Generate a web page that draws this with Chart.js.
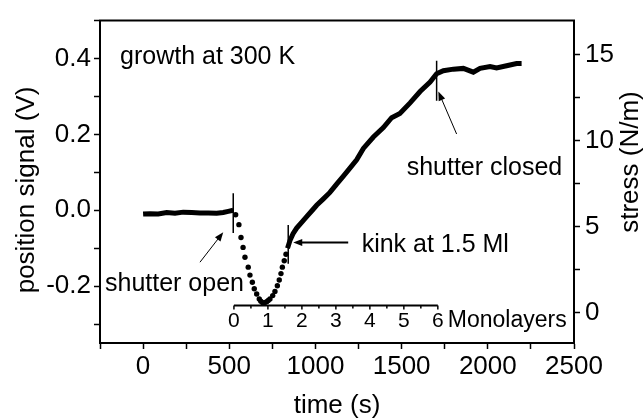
<!DOCTYPE html>
<html lang="en">
<head>
  <meta charset="UTF-8">
  <title>Growth at 300 K</title>
  <script src="https://cdn.jsdelivr.net/npm/chart.js@4.4.0/dist/chart.umd.min.js"></script>
  <style>
    body { margin: 0; background: #fff; }
  </style>
</head>
<body>
  <canvas id="myChart" width="644" height="419"></canvas>
  <script>
    // position signal (V) vs time (s)
    const flatTime   = [0, 40, 88, 137, 185, 233, 282, 330, 378, 427, 465, 494, 523];
    const flatSignal = [-0.010, -0.009, -0.010, -0.006, -0.008, -0.005, -0.006, -0.007, -0.007, -0.008, -0.006, -0.003, 0.000];

    // sparse dots right after the shutter opens
    const dropTime   = [537, 556, 568, 580, 591, 610, 620, 634, 645, 659, 674, 683, 694, 705, 717, 726, 736, 752, 765, 779, 790, 800, 808, 819, 829];
    const dropSignal = [-0.012, -0.038, -0.072, -0.098, -0.124, -0.150, -0.171, -0.190, -0.207, -0.221, -0.234, -0.240, -0.244, -0.244, -0.241, -0.238, -0.234, -0.225, -0.214, -0.199, -0.184, -0.167, -0.150, -0.133, -0.116];

    const riseTime   = [838, 852, 870, 891, 920, 949, 978, 1007, 1046, 1084, 1123, 1162, 1200, 1239, 1278, 1336, 1394, 1442, 1490, 1549, 1607, 1665, 1703,
                        1742, 1800, 1858, 1916, 1955, 2013, 2051, 2109, 2167, 2196];
    const riseSignal = [-0.100, -0.080, -0.062, -0.047, -0.032, -0.017, -0.002, 0.013, 0.030, 0.047, 0.069, 0.090, 0.111, 0.133, 0.163, 0.193, 0.218, 0.244, 0.255, 0.283, 0.313, 0.338, 0.360,
                        0.368, 0.372, 0.374, 0.364, 0.374, 0.379, 0.375, 0.381, 0.387, 0.387];

    const timeTicks = [0, 500, 1000, 1500, 2000, 2500];
    const signalTicks = [-0.2, 0.0, 0.2, 0.4];
    const stressTicks = [0, 5, 10, 15];
    const monolayerTicks = [0, 1, 2, 3, 4, 5, 6];

    // short vertical marks: shutter open, kink, shutter closed
    const markerTime   = [523, 842, 1703];
    const markerTop    = [0.045, -0.039, 0.394];
    const markerBottom = [-0.060, -0.141, 0.289];

    // monolayer scale: 0 ML and 6 ML in seconds, drawn at this signal level
    const mlStartTime = 527;
    const mlEndTime = 1710;
    const mlLevel = -0.251;

    const FONT = '"Liberation Sans", Arial, sans-serif';
    Chart.defaults.font.family = FONT;
    Chart.defaults.color = '#000';

    const near = (list, v) => list.some(s => Math.abs(s - v) < 1e-6);
    const toPoints = (xs, ys) => xs.map((x, i) => ({x: x, y: ys[i]}));

    const datasets = [
      { data: toPoints(flatTime, flatSignal), showLine: true, borderColor: '#000', borderWidth: 5, pointRadius: 0 },
      { data: toPoints(dropTime, dropSignal), showLine: false, backgroundColor: '#000', borderColor: '#000', pointRadius: 2.7, pointBorderWidth: 0 },
      { data: toPoints(riseTime, riseSignal), showLine: true, borderColor: '#000', borderWidth: 5, pointRadius: 0 }
    ];
    markerTime.forEach((t, i) => {
      datasets.push({ data: [{x: t, y: markerTop[i]}, {x: t, y: markerBottom[i]}], showLine: true, borderColor: '#000', borderWidth: 1.5, pointRadius: 0 });
    });

    // text labels and arrows, in data units
    const notes = [
      { text: 'growth at 300 K', t: -134, v: 0.385 },
      { text: 'shutter open', t: -221, v: -0.214 },
      { text: 'kink at 1.5 Ml', t: 1268, v: -0.111 },
      { text: 'shutter closed', t: 1529, v: 0.0925 }
    ];
    const arrows = [
      { from: [330, -0.137], to: [465, -0.058], width: 1 },
      { from: [1190, -0.085], to: [871, -0.085], width: 2 },
      { from: [1819, 0.201], to: [1713, 0.313], width: 1 }
    ];

    function drawRotated(ctx, text, x, y) {
      ctx.save();
      ctx.translate(x, y);
      ctx.rotate(-Math.PI / 2);
      ctx.textAlign = 'center';
      ctx.textBaseline = 'middle';
      ctx.fillText(text, 0, 0);
      ctx.restore();
    }

    const extras = {
      id: 'extras',
      afterDraw(chart) {
        const ctx = chart.ctx;
        const xs = chart.scales.x, ys = chart.scales.y;
        const a = chart.chartArea;
        ctx.save();
        ctx.strokeStyle = '#000';
        ctx.fillStyle = '#000';

        // top edge of the frame
        ctx.lineWidth = 2;
        ctx.beginPath();
        ctx.moveTo(a.left - 1, a.top);
        ctx.lineTo(a.right + 1, a.top);
        ctx.stroke();

        // axis titles on both sides read bottom to top
        ctx.font = '26px ' + FONT;
        drawRotated(ctx, 'position signal (V)', 27, 190);
        drawRotated(ctx, 'stress (N/m)', 631, 162);

        // monolayer scale
        const perMl = (mlEndTime - mlStartTime) / 6;
        const yMl = ys.getPixelForValue(mlLevel);
        ctx.lineWidth = 2;
        ctx.beginPath();
        ctx.moveTo(xs.getPixelForValue(mlStartTime), yMl);
        ctx.lineTo(xs.getPixelForValue(mlEndTime), yMl);
        ctx.stroke();
        ctx.lineWidth = 1.5;
        for (let m = 0; m <= 6; m += 0.5) {
          const px = xs.getPixelForValue(mlStartTime + m * perMl);
          ctx.beginPath();
          ctx.moveTo(px, yMl);
          ctx.lineTo(px, yMl + (Number.isInteger(m) ? 4 : 3));
          ctx.stroke();
        }
        ctx.font = '21px ' + FONT;
        ctx.textAlign = 'center';
        ctx.textBaseline = 'alphabetic';
        monolayerTicks.forEach(m => {
          ctx.fillText(String(m), xs.getPixelForValue(mlStartTime + m * perMl), yMl + 22);
        });
        ctx.textAlign = 'left';
        ctx.font = '23px ' + FONT;
        ctx.fillText('Monolayers', xs.getPixelForValue(mlEndTime) + 10, yMl + 22);

        // notes
        ctx.font = '25px ' + FONT;
        notes.forEach(n => {
          ctx.fillText(n.text, xs.getPixelForValue(n.t), ys.getPixelForValue(n.v));
        });

        // arrows
        arrows.forEach(ar => {
          const x1 = xs.getPixelForValue(ar.from[0]), y1 = ys.getPixelForValue(ar.from[1]);
          const x2 = xs.getPixelForValue(ar.to[0]), y2 = ys.getPixelForValue(ar.to[1]);
          const ang = Math.atan2(y2 - y1, x2 - x1);
          ctx.lineWidth = ar.width;
          ctx.beginPath();
          ctx.moveTo(x1, y1);
          ctx.lineTo(x2 - 6 * Math.cos(ang), y2 - 6 * Math.sin(ang));
          ctx.stroke();
          ctx.beginPath();
          ctx.moveTo(x2, y2);
          ctx.lineTo(x2 - 9 * Math.cos(ang) + 3.5 * Math.sin(ang), y2 - 9 * Math.sin(ang) - 3.5 * Math.cos(ang));
          ctx.lineTo(x2 - 9 * Math.cos(ang) - 3.5 * Math.sin(ang), y2 - 9 * Math.sin(ang) + 3.5 * Math.cos(ang));
          ctx.closePath();
          ctx.fill();
        });
        ctx.restore();
      }
    };

    const axisGrid = { drawOnChartArea: false, tickLength: 6, tickColor: '#000', tickWidth: 1.5 };
    const axisBorder = { color: '#000', width: 2 };

    new Chart(document.getElementById('myChart'), {
      type: 'scatter',
      data: { datasets: datasets },
      plugins: [extras],
      options: {
        responsive: false,
        animation: false,
        layout: { padding: { top: 12, left: 0, right: 0, bottom: 0 } },
        plugins: { legend: { display: false }, tooltip: { enabled: false } },
        scales: {
          x: {
            type: 'linear', position: 'bottom', min: -250, max: 2500,
            grid: axisGrid, border: axisBorder,
            ticks: {
              stepSize: 250, padding: 2, maxRotation: 0, autoSkip: false,
              font: { size: 26 },
              callback: v => near(timeTicks, v) ? String(v) : ''
            },
            title: { display: true, text: 'time (s)', font: { size: 26, lineHeight: 1 }, padding: { top: 0, bottom: 0 } },
            afterFit: s => { s.height = 76; }
          },
          y: {
            type: 'linear', position: 'left', min: -0.35, max: 0.5,
            grid: axisGrid, border: axisBorder,
            ticks: {
              stepSize: 0.1, padding: 3, includeBounds: false, autoSkip: false,
              font: { size: 26 },
              callback: v => near(signalTicks, v) ? v.toFixed(1) : ''
            },
            afterFit: s => { s.width = 100; }
          },
          y2: {
            type: 'linear', position: 'right', min: -1.75, max: 17, display: true,
            grid: axisGrid, border: axisBorder,
            ticks: {
              stepSize: 2.5, padding: 5, includeBounds: false, autoSkip: false,
              font: { size: 26 },
              callback: v => near(stressTicks, v) ? String(v) : ''
            },
            afterFit: s => { s.width = 70; }
          }
        }
      }
    });
  </script>
</body>
</html>
